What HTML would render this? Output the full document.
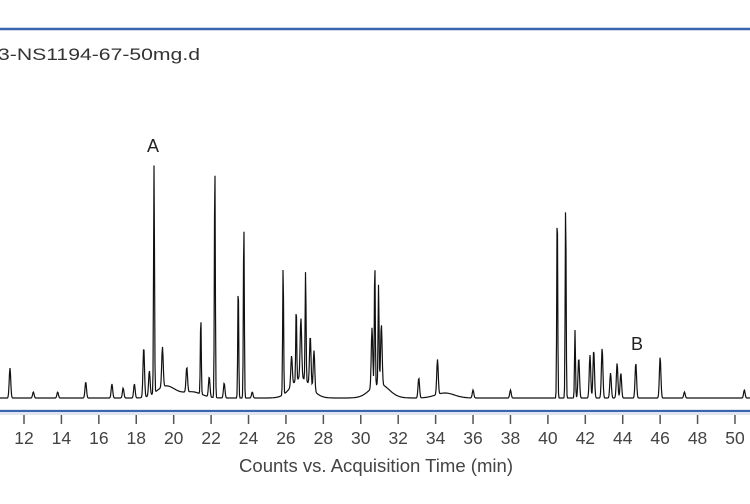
<!DOCTYPE html>
<html><head><meta charset="utf-8"><style>
body{margin:0;background:#fff;width:750px;height:499px;overflow:hidden;font-family:"Liberation Sans",sans-serif}
</style></head><body>
<svg id="chart" width="750" height="499" xmlns="http://www.w3.org/2000/svg">
<line x1="0" y1="29" x2="750" y2="29" stroke="#3a66b0" stroke-width="2.5"/>
<text x="-2" y="60" font-size="17" fill="#333" textLength="202" lengthAdjust="spacingAndGlyphs">3-NS1194-67-50mg.d</text>
<rect x="0" y="409" width="750" height="6" fill="#dfe6f0"/>
<line x1="0" y1="411" x2="750" y2="411" stroke="#3a66b0" stroke-width="2"/>
<g id="ticks"></g>
<path id="trace" fill="none" stroke="#111" stroke-width="1.2"/>
<text x="153" y="152" font-size="18" fill="#222" text-anchor="middle">A</text>
<text x="637" y="350" font-size="18" fill="#222" text-anchor="middle">B</text>
<text x="376" y="472" font-size="18" fill="#444" text-anchor="middle" textLength="274" lengthAdjust="spacingAndGlyphs">Counts vs. Acquisition Time (min)</text>
</svg>
<script>
const tickValues=[12,14,16,18,20,22,24,26,28,30,32,34,36,38,40,42,44,46,48,50];
const peakTimes=[11.25,12.5,13.8,15.3,16.7,17.3,17.9,18.4,18.7,18.95,19.4,20.7,21.45,21.9,22.2,22.7,23.45,23.75,24.2,25.85,26.3,26.55,26.8,27.05,27.3,27.5,30.6,30.75,30.95,31.1,33.1,34.1,36.0,38.0,40.5,40.95,41.45,41.65,42.25,42.45,42.9,43.35,43.7,43.9,44.7,46.0,47.3,50.5];
const peakHeights=[30,6,6,16,14,10,14,50,25,228,40,25,78,20,235,15,115,176,6,130,30,75,60,110,50,40,60,125,100,60,20,35,8,8,193,196,68,40,43,48,50,25,35,25,35,41,6,8];
const humpTimes=[19.6,21.0,26.8,31.0,34.5];
const humpHeights=[12,6,20,14,5];
const baseline=398, pxPerCount=1;
function xs(t){return 24+(t-12)*18.71;}
function ys(v){return baseline-v*pxPerCount;}
const tg=document.getElementById('ticks');
tickValues.forEach(v=>{
 const x=xs(v);
 const l=document.createElementNS('http://www.w3.org/2000/svg','line');
 
 
 l.setAttribute('x1',x);l.setAttribute('x2',x);l.setAttribute('y1',415);l.setAttribute('y2',424);
 l.setAttribute('stroke','#555');l.setAttribute('stroke-width','1.5');tg.appendChild(l);
 const t=document.createElementNS('http://www.w3.org/2000/svg','text');
 
 
 t.setAttribute('x',x);t.setAttribute('y',444);t.setAttribute('font-size','17.5');
 t.setAttribute('fill','#444');t.setAttribute('text-anchor','middle');t.textContent=v;tg.appendChild(t);
});
let d='';
for(let px=0;px<=750;px+=0.5){
 const t=12+(px-24)/18.71;let v=0;
 for(let i=0;i<peakTimes.length;i++){const w=peakHeights[i]>60?0.025:0.04;const z=(t-peakTimes[i])/w;v+=peakHeights[i]*Math.exp(-z*z/2);}
 for(let i=0;i<humpTimes.length;i++){const z=(t-humpTimes[i])/0.5;v+=humpHeights[i]*Math.exp(-z*z/2);}
 d+=(px===0?'M':'L')+px+','+ys(v).toFixed(1);
}
document.getElementById('trace').setAttribute('d',d);
</script>
</body></html>
